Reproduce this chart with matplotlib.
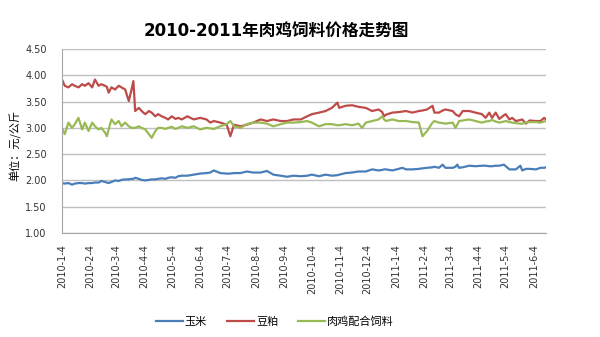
import datetime as dt
import matplotlib
matplotlib.use('Agg')
import matplotlib.pyplot as plt
from matplotlib.lines import Line2D

plt.rcParams['font.family'] = ['DejaVu Sans', 'Noto Sans CJK SC']

# days after 2010-1-4 where each reading was taken
day_offsets = [0, 3, 7, 11, 14, 18, 22, 25, 29, 33, 36, 40, 43, 47, 49, 51, 54, 58, 62, 65,
               69, 73, 76, 78, 80, 84, 87, 91, 95, 98, 102, 105, 109, 113, 116, 120, 124, 127, 131,
               137, 144, 151, 158, 162, 166, 173, 180, 184, 188, 195, 202, 209, 217, 224, 231,
               239, 246, 253, 261, 268,
               273, 281, 288, 295, 301, 303, 310, 317, 324, 328, 332, 339, 346, 350, 352, 354,
               361, 368, 372, 376, 383, 390, 394, 399, 405, 407,
               412, 416, 419, 427, 430, 432, 434, 438, 445, 452, 459, 463, 467, 470, 474, 478,
               483, 485, 489, 492, 496, 501, 503, 507, 511, 518, 523, 527, 529]

# 玉米
corn = [1.95, 1.94, 1.95, 1.92, 1.94, 1.95, 1.95, 1.94, 1.95, 1.95, 1.96, 1.96, 1.99, 1.97, 1.96,
        1.95, 1.97, 2.00, 1.99, 2.01, 2.02, 2.02, 2.03, 2.03, 2.05, 2.03, 2.01, 2.00, 2.01, 2.02,
        2.02, 2.03, 2.04, 2.03, 2.05, 2.06, 2.05, 2.08, 2.09,
        2.09, 2.11, 2.13, 2.14, 2.15, 2.19, 2.14, 2.13, 2.13, 2.14, 2.14, 2.17, 2.15, 2.15, 2.18,
        2.11, 2.09, 2.07, 2.09, 2.08, 2.09,
        2.11, 2.08, 2.11, 2.09, 2.10, 2.11, 2.14, 2.15, 2.17, 2.17, 2.17, 2.21, 2.19, 2.20, 2.21,
        2.21, 2.19, 2.22, 2.24, 2.21, 2.21, 2.22, 2.23, 2.24, 2.25, 2.26,
        2.24, 2.30, 2.24, 2.24, 2.26, 2.30, 2.24, 2.25, 2.28, 2.27, 2.28, 2.28, 2.27, 2.27, 2.28,
        2.28, 2.30, 2.27, 2.21, 2.21, 2.21, 2.28, 2.19, 2.22, 2.22, 2.21, 2.24, 2.24, 2.25]

# 豆粕
soymeal = [3.92, 3.80, 3.77, 3.83, 3.80, 3.77, 3.83, 3.80, 3.85, 3.77, 3.92, 3.80, 3.83, 3.80, 3.78,
           3.67, 3.77, 3.73, 3.80, 3.77, 3.73, 3.51, 3.73, 3.89, 3.32, 3.38, 3.32, 3.26, 3.32, 3.29,
           3.22, 3.26, 3.22, 3.19, 3.16, 3.22, 3.17, 3.19, 3.16,
           3.22, 3.16, 3.19, 3.16, 3.10, 3.13, 3.10, 3.06, 2.84, 3.06, 3.03, 3.06, 3.10, 3.16, 3.13,
           3.16, 3.13, 3.13, 3.16, 3.16, 3.22,
           3.26, 3.29, 3.32, 3.38, 3.48, 3.38, 3.42, 3.43, 3.40, 3.39, 3.38, 3.32, 3.35, 3.30, 3.22,
           3.25, 3.29, 3.30, 3.31, 3.32, 3.29, 3.32, 3.33, 3.35, 3.42, 3.29,
           3.29, 3.33, 3.35, 3.32, 3.26, 3.24, 3.22, 3.32, 3.32, 3.29, 3.26, 3.19, 3.29, 3.19, 3.29,
           3.17, 3.24, 3.26, 3.16, 3.19, 3.13, 3.15, 3.16, 3.08, 3.14, 3.13, 3.13, 3.19, 3.16]

# 肉鸡配合饲料
broiler_feed = [3.00, 2.88, 3.10, 3.00, 3.07, 3.19, 2.97, 3.10, 2.94, 3.10, 3.03, 2.97, 3.00, 2.91, 2.84,
                2.97, 3.16, 3.07, 3.13, 3.03, 3.10, 3.03, 3.00, 3.00, 3.00, 3.03, 3.00, 2.97, 2.88, 2.81,
                2.94, 3.00, 3.00, 2.98, 3.00, 3.02, 2.98, 3.00, 3.03,
                3.00, 3.03, 2.97, 3.00, 2.99, 2.98, 3.03, 3.07, 3.13, 3.03, 3.00, 3.07, 3.10, 3.10, 3.08,
                3.03, 3.07, 3.10, 3.10, 3.11, 3.13,
                3.10, 3.03, 3.07, 3.07, 3.05, 3.05, 3.07, 3.05, 3.08, 3.00, 3.10, 3.13, 3.16, 3.22, 3.16,
                3.13, 3.16, 3.13, 3.13, 3.13, 3.11, 3.10, 2.84, 2.94, 3.10, 3.13,
                3.10, 3.09, 3.08, 3.10, 3.00, 3.06, 3.13, 3.14, 3.16, 3.13, 3.10, 3.12, 3.13, 3.15, 3.12,
                3.10, 3.12, 3.13, 3.11, 3.10, 3.09, 3.08, 3.08, 3.10, 3.11, 3.11, 3.10, 3.12, 3.13]

x_tick_labels = ['2010-1-4', '2010-2-4', '2010-3-4', '2010-4-4', '2010-5-4', '2010-6-4',
                 '2010-7-4', '2010-8-4', '2010-9-4', '2010-10-4', '2010-11-4', '2010-12-4',
                 '2011-1-4', '2011-2-4', '2011-3-4', '2011-4-4', '2011-5-4', '2011-6-4']
y_ticks = [1.0, 1.5, 2.0, 2.5, 3.0, 3.5, 4.0, 4.5]

series = [('玉米', corn, '#4a7ebb'),
          ('豆粕', soymeal, '#be4b48'),
          ('肉鸡配合饲料', broiler_feed, '#98b954')]

start = dt.date(2010, 1, 4)
dates = [start + dt.timedelta(days=d) for d in day_offsets]
tick_dates = [dt.datetime.strptime(s, '%Y-%m-%d').date() for s in x_tick_labels]

fig = plt.figure(figsize=(6, 3.37), dpi=100)
ax = fig.add_axes([62 / 600, 1 - 233 / 337, 484 / 600, 184 / 337])

for name, vals, color in series:
    ax.plot(dates, vals, color=color, lw=1.6, label=name)

ax.set_ylim(1.0, 4.5)
ax.set_yticks(y_ticks)
ax.set_yticklabels([f'{v:.2f}' for v in y_ticks], fontsize=7)
ax.set_xlim(dates[0], dates[-1])
ax.set_xticks(tick_dates)
ax.set_xticklabels(x_tick_labels, rotation=90, fontsize=7)
ax.tick_params(axis='y', length=0, pad=11, colors='#333333')
ax.tick_params(axis='x', length=0, pad=8, colors='#333333')

ax.yaxis.grid(True, color='#c0c0c0', lw=1)
ax.set_axisbelow(True)
for s in ['top', 'right']:
    ax.spines[s].set_visible(False)
for s in ['left', 'bottom']:
    ax.spines[s].set_color('#a6a6a6')

fig.text(276 / 600, 1 - 31 / 337, '2010-2011年肉鸡饲料价格走势图',
         fontsize=12, fontweight='bold', ha='center', va='center')
fig.text(15 / 600, 1 - 145 / 337, '单位：元/公斤', rotation=90, fontsize=8,
         ha='center', va='center', family=['Noto Sans CJK SC', 'DejaVu Sans'])

handles = [Line2D([], [], color=c, lw=1.6) for _, _, c in series]
fig.legend(handles, [n for n, _, _ in series], loc='center',
           bbox_to_anchor=(275 / 600, 1 - 322 / 337), ncol=3, frameon=False,
           handlelength=2.4, handletextpad=0.2, columnspacing=1.8,
           prop={'family': ['Noto Sans CJK SC'], 'size': 8})

fig.savefig('out.png', dpi=100)
